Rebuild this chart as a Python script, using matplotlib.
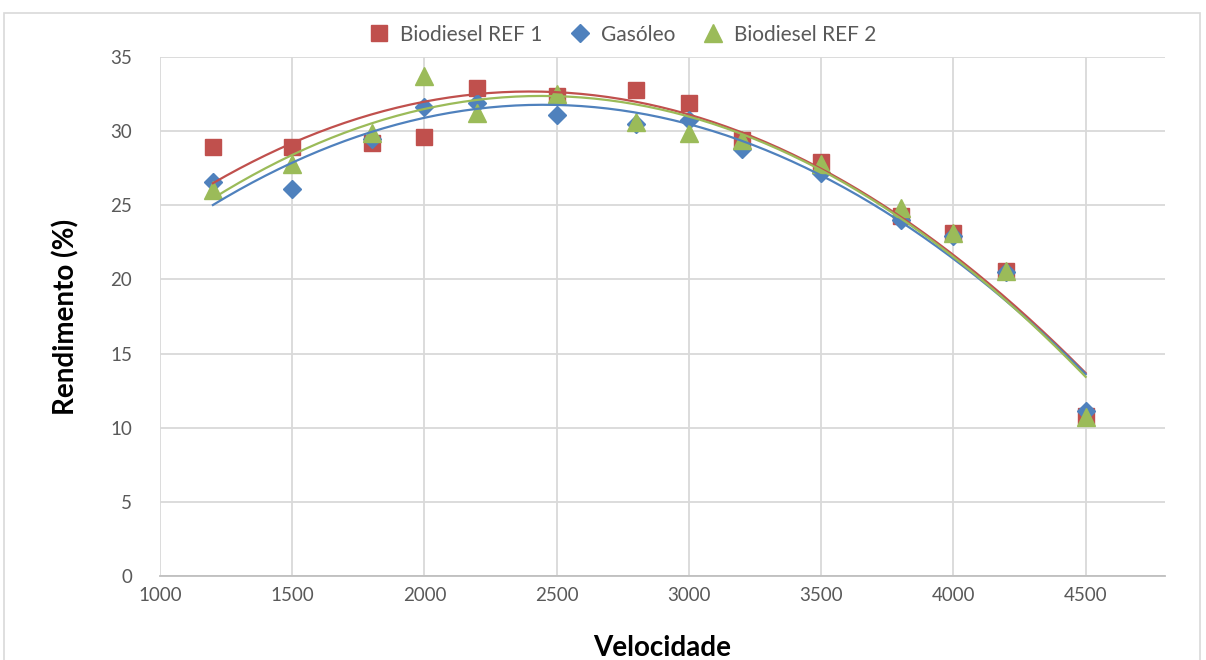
import numpy as np
import matplotlib.pyplot as plt
from matplotlib.patches import Rectangle

plt.rcParams['font.family'] = ['Lato', 'DejaVu Sans']

velocidade = [1200, 1500, 1800, 2000, 2200, 2500, 2800, 3000, 3200, 3500, 3800, 4000, 4200, 4500]
ref1 = [28.9, 28.9, 29.2, 29.6, 32.9, 32.4, 32.8, 31.9, 29.4, 27.9, 24.3, 23.1, 20.6, 10.8]
gasoleo = [26.6, 26.1, 29.5, 31.6, 31.9, 31.1, 30.5, 30.75, 28.8, 27.2, 24.0, 22.9, 20.5, 11.1]
ref2 = [26.0, 27.8, 29.9, 33.7, 31.2, 32.5, 30.6, 29.85, 29.4, 27.8, 24.8, 23.1, 20.6, 10.7]

series = [
    ('Biodiesel REF 1', ref1, '#C0504D', 's', 12),
    ('Gasóleo', gasoleo, '#4F81BD', 'D', 9.5),
    ('Biodiesel REF 2', ref2, '#9BBB59', '^', 13),
]

fig = plt.figure(figsize=(12.06, 6.6), dpi=100)
ax = fig.add_axes([0.1327, 0.1273, 0.8333, 0.7863])

x = np.array(velocidade)
xs = np.linspace(x.min(), x.max(), 200)
for name, vals, color, marker, ms in series:
    ax.plot(x, vals, linestyle='none', marker=marker, markersize=ms,
            color=color, label=name, zorder=3)

# second order polynomial trend lines
for name, vals, color, marker, ms in series:
    coef = np.polyfit(x, vals, 2)
    ax.plot(xs, np.polyval(coef, xs), color=color, linewidth=1.6, zorder=4)

ax.set_xlim(1000, 4800)
ax.set_ylim(0, 35)
ax.set_xticks(range(1000, 5000, 500))
ax.set_yticks(range(0, 40, 5))
ax.grid(True, color='#D9D9D9', linewidth=1.3)
ax.set_axisbelow(True)
for side in ['top', 'right', 'left']:
    ax.spines[side].set_visible(False)
ax.spines['bottom'].set_color('#BFBFBF')
ax.spines['bottom'].set_linewidth(1.3)
ax.tick_params(axis='x', length=0, labelsize=13.5, colors='#595959', pad=8)
ax.tick_params(axis='y', length=0, labelsize=13.5, colors='#595959', pad=20)

ax.set_xlabel('Velocidade', fontsize=20, fontweight='bold', labelpad=22)
ax.set_ylabel('Rendimento (%)', fontsize=20, fontweight='bold', labelpad=22)

ax.legend(loc='lower center', bbox_to_anchor=(0.455, 1.0), ncol=3, frameon=False,
          fontsize=15, handletextpad=0.0, columnspacing=0.8,
          labelcolor='#595959', borderaxespad=0.2)

fig.patches.append(Rectangle((0.003, -0.01), 0.992, 0.99, transform=fig.transFigure,
                             fill=False, edgecolor='#D9D9D9', linewidth=1.2))

fig.savefig('out.png', dpi=100)
